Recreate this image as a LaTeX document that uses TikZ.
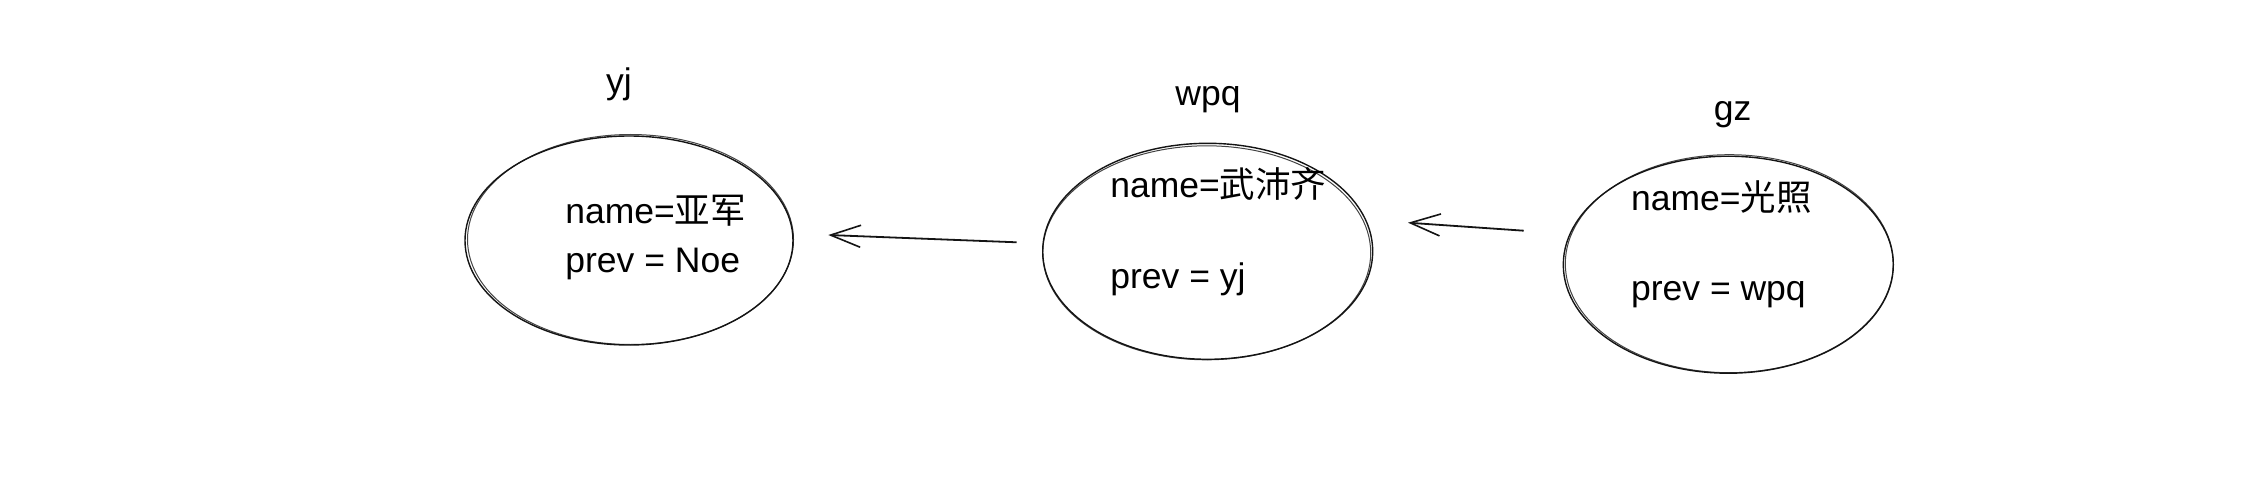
\documentclass[tikz,border=0pt]{standalone}
\usepackage{fontspec}
\setmainfont{Liberation Sans}
\newfontfamily\cjk{Noto Sans CJK SC}
\usetikzlibrary{arrows.meta,shapes.geometric}
\definecolor{ink}{HTML}{141414}
\begin{document}
\begin{tikzpicture}[x=0.5pt,y=-0.5pt,
  bubble/.style={ellipse, draw=ink, line width=0.7pt, inner sep=0pt},
  rough/.style={draw=ink, line width=0.5pt, opacity=0.8},
  txt/.style={font=\fontsize{17.75}{20}\selectfont, inner sep=0pt, text=black, anchor=base west},
  lbl/.style={font=\fontsize{17.75}{20}\selectfont, inner sep=0pt, text=black, anchor=base},
  arr/.style={draw=ink, line width=0.9pt, -{Straight Barb[length=15pt,width=11pt,line width=0.8pt]}}]
\fill[white] (0,0) rectangle (2254,492);
\useasboundingbox (0,0) rectangle (2254,492);
% ellipses
\node[bubble, minimum width=164pt, minimum height=104.5pt] (e1) at (629,240.5) {};
\node[bubble, minimum width=165pt, minimum height=108pt] (e2) at (1207.7,251.3) {};
\node[bubble, minimum width=165pt, minimum height=108.5pt] (e3) at (1728.3,264.7) {};
% second sketch strokes
\draw[rough] ([shift={(1.5,-1)}]e1.center) ellipse [x radius=163, y radius=105];
\draw[rough] ([shift={(-1,1.5)}]e2.center) ellipse [x radius=164, y radius=107];
\draw[rough] ([shift={(1,-1)}]e3.center) ellipse [x radius=164, y radius=109];
% labels
\node[lbl] (l1) at (619,93.3) {yj};
\node[lbl] (l2) at (1208,105) {wpq};
\node[lbl] (l3) at (1732.5,120) {gz};
% contents
\node[txt] (t1a) at (565,223.3) {name={\cjk 亚军}};
\node[txt] (t1b) at (565,272.7) {prev = Noe};
\node[txt] (t2a) at (1110,197.3) {name={\cjk 武沛齐}};
\node[txt] (t2b) at (1110,288.3) {prev = yj};
\node[txt] (t3a) at (1630.7,210) {name={\cjk 光照}};
\node[txt] (t3b) at (1630.7,300) {prev = wpq};
% arrows
\coordinate (a1s) at (1016.7,242.3);
\coordinate (a1t) at (828.3,235);
\coordinate (a2s) at (1523.7,230.7);
\coordinate (a2t) at (1408,222.7);
\draw[arr] (a1s) -- (a1t);
\draw[arr] (a2s) -- (a2t);
\end{tikzpicture}
\end{document}
